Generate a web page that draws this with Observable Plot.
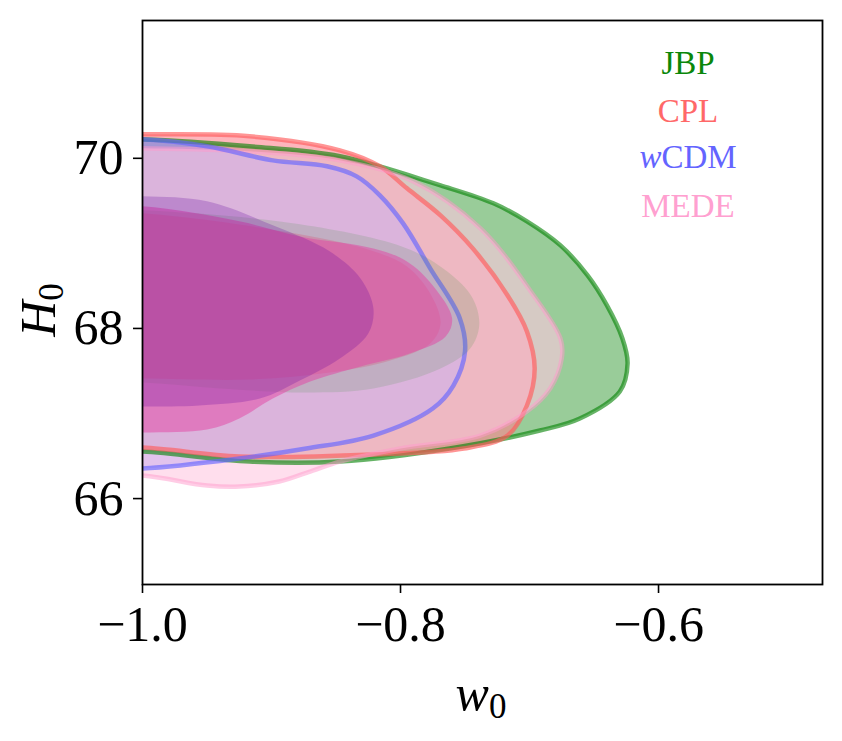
<!DOCTYPE html>
<html><head><meta charset="utf-8">
<script src="https://cdn.jsdelivr.net/npm/d3@7"></script>
<script src="https://cdn.jsdelivr.net/npm/@observablehq/plot@0.6"></script>
<style>body{margin:0;background:#fff} svg{display:block}</style>
</head><body><div id="chart"></div>
<script>
// ---- contour outlines (w0, H0) ----
// 2-sigma (outer)
const jbp2_w0 = [-1.0, -0.917, -0.847, -0.769, -0.728, -0.702, -0.676, -0.655, -0.640, -0.628, -0.624, -0.630, -0.661, -0.692, -0.762, -0.847, -0.917, -1.0];
const jbp2_H0 = [70.224, 70.141, 70.024, 69.682, 69.471, 69.259, 68.976, 68.624, 68.271, 67.882, 67.588, 67.259, 66.941, 66.800, 66.588, 66.435, 66.435, 66.553];
const cpl2_w0 = [-1.0, -0.917, -0.847, -0.816, -0.795, -0.769, -0.744, -0.717, -0.702, -0.696, -0.702, -0.717, -0.751, -0.821, -0.925, -1.0];
const cpl2_H0 = [70.282, 70.259, 70.094, 69.906, 69.647, 69.329, 68.941, 68.388, 67.965, 67.529, 67.094, 66.741, 66.588, 66.518, 66.494, 66.600];
const wcdm2_w0 = [-1.0, -0.950, -0.899, -0.857, -0.834, -0.816, -0.798, -0.777, -0.754, -0.750, -0.759, -0.775, -0.821, -0.873, -0.925, -1.0];
const wcdm2_H0 = [70.224, 70.141, 69.976, 69.906, 69.788, 69.565, 69.235, 68.706, 68.118, 67.729, 67.329, 67.059, 66.741, 66.588, 66.471, 66.353];
const mede2_w0 = [-1.0, -0.917, -0.847, -0.790, -0.738, -0.699, -0.676, -0.675, -0.684, -0.702, -0.738, -0.800, -0.847, -0.868, -0.894, -0.925, -0.950, -1.0];
const mede2_H0 = [70.118, 70.082, 69.976, 69.729, 69.176, 68.435, 67.882, 67.647, 67.294, 67.024, 66.741, 66.588, 66.435, 66.329, 66.200, 66.141, 66.153, 66.271];
// 1-sigma (inner)
const jbp1_w0 = [-1.0, -0.878, -0.795, -0.764, -0.744, -0.739, -0.746, -0.769, -0.821, -0.873, -0.940, -1.0];
const jbp1_H0 = [69.388, 69.224, 68.941, 68.671, 68.353, 68.035, 67.765, 67.529, 67.294, 67.247, 67.294, 67.365];
const cpl1_w0 = [-1.0, -0.878, -0.821, -0.795, -0.777, -0.769, -0.777, -0.808, -0.855, -0.917, -1.0];
const cpl1_H0 = [69.353, 69.106, 68.906, 68.729, 68.412, 68.059, 67.824, 67.624, 67.482, 67.400, 67.412];
const wcdm1_w0 = [-1.0, -0.950, -0.899, -0.855, -0.831, -0.821, -0.825, -0.847, -0.878, -0.909, -0.956, -1.0];
const wcdm1_H0 = [69.553, 69.494, 69.212, 68.906, 68.588, 68.235, 67.941, 67.647, 67.388, 67.176, 67.094, 67.082];
const mede1_w0 = [-1.0, -0.925, -0.878, -0.821, -0.795, -0.775, -0.760, -0.765, -0.793, -0.831, -0.870, -0.899, -0.925, -0.950, -1.0];
const mede1_H0 = [69.435, 69.259, 69.082, 68.941, 68.788, 68.506, 68.118, 67.906, 67.706, 67.553, 67.376, 67.176, 66.941, 66.812, 66.776];

// axes
const xDomain = [-1.0, -0.4729];
const yDomain = [64.99, 71.62];
const xTicks = [-1.0, -0.8, -0.6];
const yTicks = [66, 68, 70];

// legend
const legendItalic = ["", "", "w", ""];
const legendText = ["JBP", "CPL", "CDM", "MEDE"];
const legendColors = ["#0a870a", "#ff6868", "#6464ff", "#ffa0d0"];

// styles
const outerFill = {jbp: ["#008000", 0.4], cpl: ["rgb(253,132,143)", 0.6], wcdm: ["rgb(135,143,255)", 0.6], mede: ["rgb(255,200,225)", 0.6]};
const outerLine = {jbp: ["#008000", 0.6], cpl: ["#ff5c5c", 0.65], wcdm: ["#6666ff", 0.65], mede: ["#ff99cc", 0.5]};
const innerFill = {jbp: ["rgb(46,139,46)", 0.15], cpl: ["rgb(224,64,106)", 0.25], mede: ["rgb(226,70,164)", 0.52], wcdm: ["rgb(95,0,160)", 0.24]};

// closed polygon that runs past the hard prior edge on the left, then clipped
const OUTSIDE = xDomain[0] - 0.06;
function shape(ws, hs) {
  const pts = ws.map((w, i) => ({w0: w, H0: hs[i]}));
  pts.push({w0: OUTSIDE, H0: hs[hs.length - 1]});
  pts.push({w0: OUTSIDE, H0: hs[0]});
  return pts;
}
const S = {
  jbp2: shape(jbp2_w0, jbp2_H0), cpl2: shape(cpl2_w0, cpl2_H0),
  wcdm2: shape(wcdm2_w0, wcdm2_H0), mede2: shape(mede2_w0, mede2_H0),
  jbp1: shape(jbp1_w0, jbp1_H0), cpl1: shape(cpl1_w0, cpl1_H0),
  wcdm1: shape(wcdm1_w0, wcdm1_H0), mede1: shape(mede1_w0, mede1_H0)
};
const curve = "catmull-rom-closed";
const fillMark = (d, [c, o]) => Plot.line(d, {x: "w0", y: "H0", curve, fill: c, fillOpacity: o, stroke: "none", clip: true});
const lineMark = (d, [c, o]) => Plot.line(d, {x: "w0", y: "H0", curve, stroke: c, strokeOpacity: o, strokeWidth: 4.5, fill: "none", clip: true});

const fmt = d => (d < 0 ? "\u2212" : "") + Math.abs(d).toFixed(1);

const svg = Plot.plot({
  width: 842, height: 741,
  marginLeft: 142, marginRight: 20, marginTop: 20, marginBottom: 157,
  style: {fontFamily: "'Liberation Serif', serif", background: "white", color: "black"},
  x: {domain: xDomain},
  y: {domain: yDomain},
  marks: [
    fillMark(S.jbp2, outerFill.jbp),
    fillMark(S.cpl2, outerFill.cpl),
    fillMark(S.wcdm2, outerFill.wcdm),
    fillMark(S.mede2, outerFill.mede),
    lineMark(S.jbp2, outerLine.jbp),
    lineMark(S.cpl2, outerLine.cpl),
    lineMark(S.mede2, outerLine.mede),
    lineMark(S.wcdm2, outerLine.wcdm),
    fillMark(S.jbp1, innerFill.jbp),
    fillMark(S.cpl1, innerFill.cpl),
    fillMark(S.mede1, innerFill.mede),
    fillMark(S.wcdm1, innerFill.wcdm),
    Plot.frame({stroke: "black", strokeWidth: 1.8}),
    Plot.axisX({ticks: xTicks, tickFormat: fmt, tickSize: 9, tickPadding: 12, fontSize: 50, label: null, strokeWidth: 1.6}),
    Plot.axisY({ticks: yTicks, tickFormat: d => String(d), tickSize: 9, tickPadding: 10, fontSize: 50, label: null, strokeWidth: 1.6})
  ]
});
document.getElementById("chart").appendChild(svg);

const g = d3.select(svg).append("g").attr("font-family", "'Liberation Serif', serif");
// x label
const xl = g.append("text").attr("x", 481).attr("y", 710).attr("text-anchor", "middle").attr("font-size", 50).attr("fill", "black");
xl.append("tspan").attr("font-style", "italic").text("w");
xl.append("tspan").attr("font-size", 35).attr("dy", 8).text("0");
// y label
const yl = g.append("text").attr("transform", "translate(55,310) rotate(-90)").attr("text-anchor", "middle").attr("font-size", 50).attr("fill", "black");
yl.append("tspan").attr("font-style", "italic").text("H");
yl.append("tspan").attr("font-size", 35).attr("dy", 8).text("0");
// legend
const baselines = [74, 122, 168, 217];
legendText.forEach((t, i) => {
  const tx = g.append("text").attr("x", 688).attr("y", baselines[i]).attr("font-size", 33).attr("fill", legendColors[i]);
  if (legendItalic[i]) tx.append("tspan").attr("font-style", "italic").text(legendItalic[i]);
  tx.append("tspan").text(t);
});
</script>
</body></html>
